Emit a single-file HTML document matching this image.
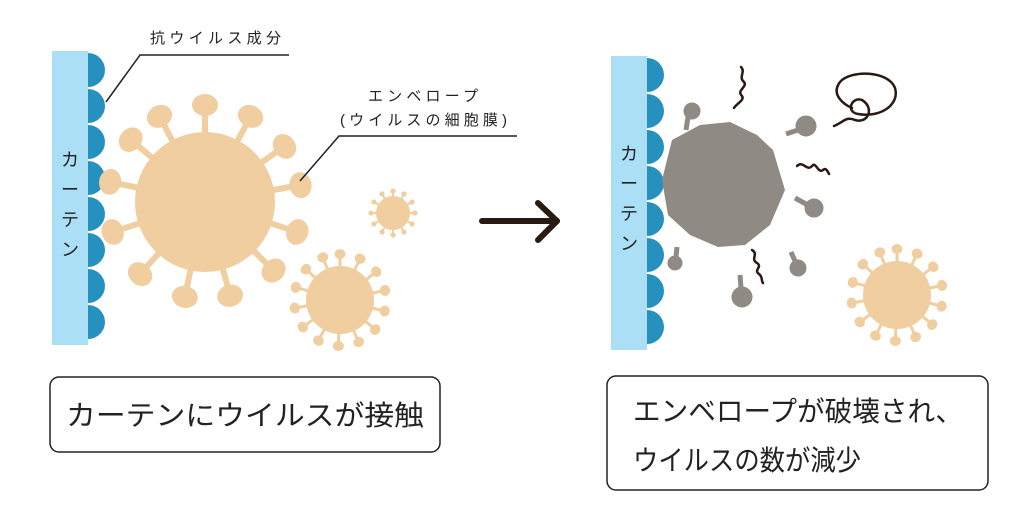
<!DOCTYPE html>
<html><head><meta charset="utf-8"><style>
html,body{margin:0;padding:0;background:#fff;width:1024px;height:517px;overflow:hidden}
svg{display:block}
text{font-family:"Liberation Sans","Noto Sans CJK JP",sans-serif;fill:#222}
</style></head><body>
<svg width="1024" height="517" viewBox="0 0 1024 517" xmlns="http://www.w3.org/2000/svg">
<defs>
<g id="sb" fill="#f0cea0"><rect x="202" y="112" width="6" height="28"/><ellipse cx="205" cy="105" rx="13" ry="11"/></g>
<g id="sm" fill="#f0cea0"><rect x="338.5" y="256" width="3" height="12"/><ellipse cx="340" cy="254" rx="5.5" ry="5"/></g>
<g id="sr" fill="#f0cea0"><rect x="895.5" y="251" width="3" height="12"/><ellipse cx="897" cy="249" rx="5.5" ry="5"/></g>
<g id="st" fill="#f0cea0"><rect x="392" y="192" width="2" height="6"/><circle cx="393" cy="191" r="2.6"/></g>
<path id="bump" d="M0,-17 A17,17 0 0 1 0,17 Z" fill="#2690bf"/>
</defs>

<rect x="52" y="51" width="36" height="294" fill="#aadff5"/>
<g transform="translate(88,0)">
<use href="#bump" y="70"/><use href="#bump" y="106"/><use href="#bump" y="142"/><use href="#bump" y="178"/><use href="#bump" y="214"/><use href="#bump" y="250"/><use href="#bump" y="286"/><use href="#bump" y="322"/>
</g>
<text x="70" y="166" font-size="18" text-anchor="middle">カ</text>
<text x="70" y="196" font-size="18" text-anchor="middle">ー</text>
<text x="70" y="226" font-size="18" text-anchor="middle">テ</text>
<text x="70" y="256" font-size="18" text-anchor="middle">ン</text>

<g>
<use href="#sb" transform="rotate(0 205 202)"/><use href="#sb" transform="rotate(-28 205 202)"/><use href="#sb" transform="rotate(28 205 202)"/><use href="#sb" transform="rotate(55 205 202)"/><use href="#sb" transform="rotate(80 205 202)"/><use href="#sb" transform="rotate(108 205 202)"/><use href="#sb" transform="rotate(135 205 202)"/><use href="#sb" transform="rotate(165 205 202)"/><use href="#sb" transform="rotate(192 205 202)"/><use href="#sb" transform="rotate(222 205 202)"/><use href="#sb" transform="rotate(252 205 202)"/><use href="#sb" transform="rotate(282 205 202)"/><use href="#sb" transform="rotate(310 205 202)"/>
<circle cx="205" cy="202" r="70" fill="#f0cea0"/>
</g>
<g>
<use href="#st" transform="rotate(0 393 213)"/><use href="#st" transform="rotate(30 393 213)"/><use href="#st" transform="rotate(60 393 213)"/><use href="#st" transform="rotate(90 393 213)"/><use href="#st" transform="rotate(120 393 213)"/><use href="#st" transform="rotate(150 393 213)"/><use href="#st" transform="rotate(180 393 213)"/><use href="#st" transform="rotate(210 393 213)"/><use href="#st" transform="rotate(240 393 213)"/><use href="#st" transform="rotate(270 393 213)"/><use href="#st" transform="rotate(300 393 213)"/><use href="#st" transform="rotate(330 393 213)"/>
<circle cx="393" cy="213" r="17" fill="#f0cea0"/>
</g>
<g>
<use href="#sm" transform="rotate(0 340 300)"/><use href="#sm" transform="rotate(26 340 300)"/><use href="#sm" transform="rotate(52 340 300)"/><use href="#sm" transform="rotate(78 340 300)"/><use href="#sm" transform="rotate(104 340 300)"/><use href="#sm" transform="rotate(130 340 300)"/><use href="#sm" transform="rotate(156 340 300)"/><use href="#sm" transform="rotate(182 340 300)"/><use href="#sm" transform="rotate(208 340 300)"/><use href="#sm" transform="rotate(234 340 300)"/><use href="#sm" transform="rotate(260 340 300)"/><use href="#sm" transform="rotate(286 340 300)"/><use href="#sm" transform="rotate(312 340 300)"/><use href="#sm" transform="rotate(338 340 300)"/>
<circle cx="340" cy="300" r="34" fill="#f0cea0"/>
</g>

<polyline points="106,102 140,55 289,55" fill="none" stroke="#222" stroke-width="1.5"/>
<text x="150" y="43" font-size="15" textLength="131" lengthAdjust="spacing">抗ウイルス成分</text>
<polyline points="300,181 339,136 517,136" fill="none" stroke="#222" stroke-width="1.5"/>
<text x="368" y="101" font-size="15" textLength="110" lengthAdjust="spacing">エンベロープ</text>
<text x="340" y="125" font-size="15" textLength="167" lengthAdjust="spacing">(ウイルスの細胞膜)</text>

<g stroke="#2a1a14" stroke-width="6" stroke-linecap="round" fill="none" stroke-linejoin="round">
<line x1="482" y1="221" x2="557" y2="221"/>
<polyline points="538,203 557,221 538,240"/>
</g>

<rect x="611" y="56" width="36" height="294" fill="#aadff5"/>
<g transform="translate(647,0)">
<use href="#bump" y="75"/><use href="#bump" y="111"/><use href="#bump" y="147"/><use href="#bump" y="183"/><use href="#bump" y="219"/><use href="#bump" y="255"/><use href="#bump" y="291"/><use href="#bump" y="327"/>
</g>
<text x="629" y="160" font-size="18" text-anchor="middle">カ</text>
<text x="629" y="190" font-size="18" text-anchor="middle">ー</text>
<text x="629" y="220" font-size="18" text-anchor="middle">テ</text>
<text x="629" y="250" font-size="18" text-anchor="middle">ン</text>

<polygon points="662,180 672,140 700,125 730,122 757,135 773,150 785,190 770,225 745,245 718,247 690,235 668,215" fill="#8f8a84"/>
<g fill="#8f8a84" stroke="#8f8a84">
<circle cx="692" cy="111" r="8"/><line x1="688" y1="117" x2="686" y2="130" stroke-width="5"/>
<circle cx="806" cy="126" r="10"/><line x1="798" y1="130" x2="786" y2="134" stroke-width="5"/>
<circle cx="814" cy="208" r="9"/><line x1="806" y1="204" x2="795" y2="198" stroke-width="5"/>
<circle cx="675" cy="263" r="7"/><line x1="676" y1="257" x2="677" y2="247" stroke-width="5"/>
<circle cx="742" cy="297" r="10"/><line x1="741" y1="288" x2="740" y2="275" stroke-width="5"/>
<circle cx="798" cy="268" r="8"/><line x1="795" y1="261" x2="791" y2="252" stroke-width="5"/>
</g>
<g fill="none" stroke="#2a1a14" stroke-width="2.5" stroke-linecap="round">
<path d="M741,67 C746,72 738,77 744,82 C748,87 736,90 742,96 C745,100 736,104 734,108"/>
<path d="M797,166 C803,160 807,172 812,166 C816,161 818,174 823,170 C826,167 828,172 829,174"/>
<path d="M752,250 C759,254 750,259 757,263 C763,267 753,270 759,274 C763,277 761,281 763,283"/>
<path d="M834,126 C844,122 846,116 855,120 C868,124 875,108 862,100 C852,96 845,112 858,114 C880,118 900,105 895,88 C888,70 850,70 840,82 C830,95 845,105 852,108"/>
</g>

<g>
<use href="#sr" transform="rotate(0 897 295)"/><use href="#sr" transform="rotate(26 897 295)"/><use href="#sr" transform="rotate(52 897 295)"/><use href="#sr" transform="rotate(78 897 295)"/><use href="#sr" transform="rotate(104 897 295)"/><use href="#sr" transform="rotate(130 897 295)"/><use href="#sr" transform="rotate(156 897 295)"/><use href="#sr" transform="rotate(182 897 295)"/><use href="#sr" transform="rotate(208 897 295)"/><use href="#sr" transform="rotate(234 897 295)"/><use href="#sr" transform="rotate(260 897 295)"/><use href="#sr" transform="rotate(286 897 295)"/><use href="#sr" transform="rotate(312 897 295)"/><use href="#sr" transform="rotate(338 897 295)"/>
<circle cx="897" cy="295" r="34" fill="#f0cea0"/>
</g>

<rect x="50" y="377" width="390" height="75" rx="9" fill="#fff" stroke="#222" stroke-width="1.5"/>
<text x="66" y="425" font-size="28" textLength="358" lengthAdjust="spacingAndGlyphs">カーテンにウイルスが接触</text>
<rect x="607" y="376" width="381" height="114" rx="9" fill="#fff" stroke="#222" stroke-width="1.5"/>
<text x="633" y="421" font-size="28" textLength="330" lengthAdjust="spacingAndGlyphs">エンベロープが破壊され、</text>
<text x="633" y="470" font-size="28" textLength="228" lengthAdjust="spacingAndGlyphs">ウイルスの数が減少</text>
</svg>
</body></html>
